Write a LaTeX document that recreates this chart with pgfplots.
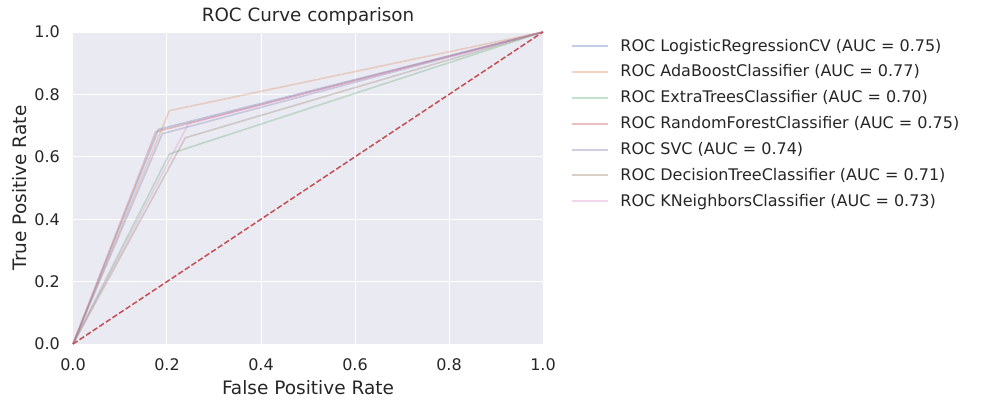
\documentclass[border=0pt]{standalone}
\usepackage{pgfplots}
\pgfplotsset{compat=1.18}
\usetikzlibrary{calc}
\usepackage{fontspec}
\setmainfont{DejaVu Sans}
\definecolor{bgc}{HTML}{EAEAF2}
\definecolor{c1}{HTML}{4C72B0}
\definecolor{c2}{HTML}{DD8452}
\definecolor{c3}{HTML}{55A868}
\definecolor{c4}{HTML}{C44E52}
\definecolor{c5}{HTML}{8172B3}
\definecolor{c6}{HTML}{937860}
\definecolor{c7}{HTML}{DA8BC3}
\definecolor{txt}{HTML}{262626}
\begin{document}
\begin{tikzpicture}
\begin{axis}[
  name=ax,
  scale only axis,
  width=470pt, height=312pt,
  xmin=0, xmax=1, ymin=0, ymax=1,
  axis background/.style={fill=bgc},
  axis line style={draw=none},
  grid=major,
  major grid style={white, line width=1pt},
  tick style={draw=none},
  xtick={0,0.2,...,1}, ytick={0,0.2,...,1},
  xticklabel style={/pgf/number format/fixed, /pgf/number format/fixed zerofill, /pgf/number format/precision=1,
    inner sep=0pt, anchor=north, yshift=-14pt},
  yticklabel style={/pgf/number format/fixed, /pgf/number format/fixed zerofill, /pgf/number format/precision=1,
    inner sep=0pt, anchor=east, xshift=-13pt},
  /pgf/number format/assume math mode=true,
  ticklabel style={font=\fontsize{16}{19}\selectfont, text=txt},
  xlabel={False Positive Rate}, ylabel={True Positive Rate},
  label style={font=\fontsize{18.5}{22}\selectfont, text=txt},
  xlabel style={at={(axis description cs:0.5,-0.141)}, anchor=center},
  ylabel style={at={(axis description cs:-0.1128,0.5)}, anchor=center},
  title={ROC Curve comparison},
  title style={font=\fontsize{18.3}{22}\selectfont, text=txt, at={(axis description cs:0.5,1.03)}, anchor=center},
  legend style={at={(1.06,0.985)}, anchor=north west, draw=none, fill=none,
    font=\fontsize{16}{19}\selectfont, text=txt, row sep=8.3pt,
    inner sep=0pt, /tikz/every odd column/.append style={column sep=9pt}},
  legend cell align=left,
  legend image code/.code={\draw[#1, line width=2pt, opacity=0.35] (0pt,0pt) -- (36pt,0pt);},
  every axis plot/.append style={line width=1.6pt, opacity=0.3},
  clip=false,
]
\addplot[c1] coordinates {(0,0) (0.182,0.688) (1,1)};
\addlegendentry{ROC LogisticRegressionCV (AUC = 0.75)}
\addplot[c2] coordinates {(0,0) (0.205,0.748) (1,1)};
\addlegendentry{ROC AdaBoostClassifier (AUC = 0.77)}
\addplot[c3] coordinates {(0,0) (0.205,0.609) (1,1)};
\addlegendentry{ROC ExtraTreesClassifier (AUC = 0.70)}
\addplot[c4] coordinates {(0,0) (0.176,0.680) (1,1)};
\addlegendentry{ROC RandomForestClassifier (AUC = 0.75)}
\addplot[c5] coordinates {(0,0) (0.19,0.674) (1,1)};
\addlegendentry{ROC SVC (AUC = 0.74)}
\addplot[c6] coordinates {(0,0) (0.239,0.661) (1,1)};
\addlegendentry{ROC DecisionTreeClassifier (AUC = 0.71)}
\addplot[c7] coordinates {(0,0) (0.246,0.707) (1,1)};
\addlegendentry{ROC KNeighborsClassifier (AUC = 0.73)}
\addplot[c4, opacity=1, line width=1.5pt, dash pattern=on 5.5pt off 2.4pt, forget plot] coordinates {(0,0) (1,1)};
\end{axis}
\pgfresetboundingbox
\path ($(ax.south west)+(-73pt,-56pt)$) rectangle ($(ax.north east)+(451pt,32pt)$);
\end{tikzpicture}
\end{document}
